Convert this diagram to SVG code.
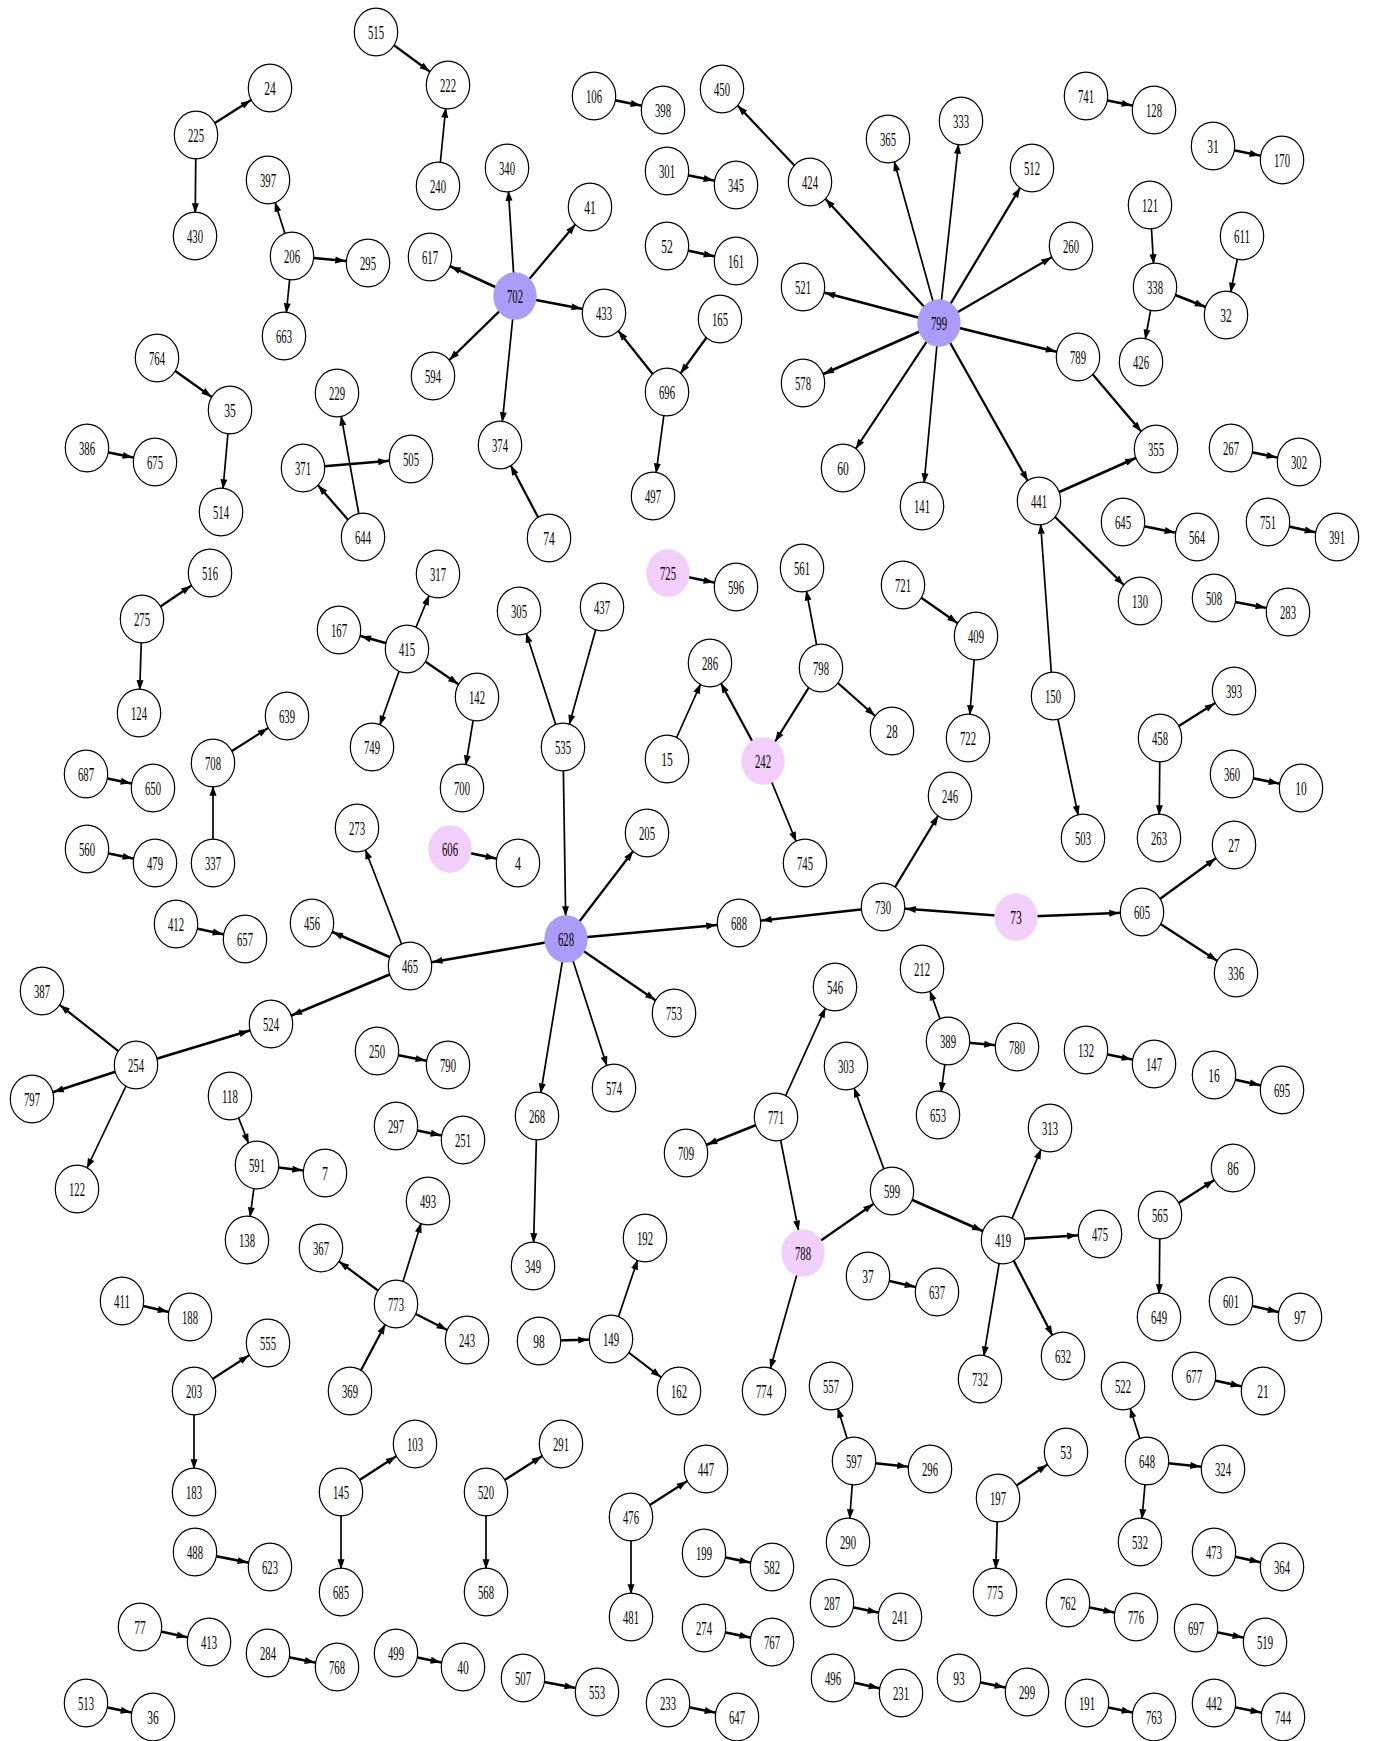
<svg xmlns="http://www.w3.org/2000/svg" width="1376" height="1741" viewBox="0 0 1376 1741">
<style>
.node ellipse{fill:#fff;stroke:#000;stroke-width:1.2}
.node.hub ellipse{fill:#aa9cf8;stroke:none}
.node.pk ellipse{fill:#f2cefa;stroke:none}
.node text{font-family:"Liberation Serif","Times New Roman",serif;font-size:18px;text-anchor:middle;fill:#000}
#edges line{stroke:#000;fill:none;marker-end:url(#ah)}
#edges .h{stroke-width:2.6}
#edges .d{stroke-width:2.2}
#edges .v{stroke-width:1.7}
</style>
<defs>
<marker id="ah" markerUnits="userSpaceOnUse" markerWidth="10" markerHeight="7" refX="32.8" refY="3.5" orient="auto" overflow="visible">
<path d="M0,0 L10,3.5 L0,7 z" fill="#000"/>
</marker>
</defs>
<rect width="1376" height="1741" fill="#fff"/>
<g id="edges">
<line class="d" x1="376" y1="32" x2="448" y2="85"/>
<line class="v" x1="438" y1="186" x2="448" y2="85"/>
<line class="d" x1="196" y1="135" x2="270" y2="88"/>
<line class="v" x1="196" y1="135" x2="195" y2="236"/>
<line class="v" x1="292" y1="256" x2="268" y2="180"/>
<line class="h" x1="292" y1="256" x2="368" y2="263"/>
<line class="v" x1="292" y1="256" x2="284" y2="336"/>
<line class="h" x1="594" y1="96" x2="663" y2="110"/>
<line class="v" x1="515" y1="296" x2="507" y2="168"/>
<line class="d" x1="515" y1="296" x2="590" y2="207"/>
<line class="h" x1="515" y1="296" x2="430" y2="257"/>
<line class="d" x1="515" y1="296" x2="433" y2="376"/>
<line class="h" x1="515" y1="296" x2="604" y2="313"/>
<line class="v" x1="515" y1="296" x2="500" y2="445"/>
<line class="h" x1="667" y1="171" x2="736" y2="185"/>
<line class="h" x1="667" y1="246" x2="736" y2="261"/>
<line class="d" x1="720" y1="319" x2="667" y2="392"/>
<line class="d" x1="667" y1="392" x2="604" y2="313"/>
<line class="v" x1="667" y1="392" x2="653" y2="496"/>
<line class="d" x1="549" y1="538" x2="500" y2="445"/>
<line class="d" x1="810" y1="182" x2="722" y2="89"/>
<line class="d" x1="939" y1="323" x2="810" y2="182"/>
<line class="v" x1="939" y1="323" x2="888" y2="139"/>
<line class="v" x1="939" y1="323" x2="961" y2="121"/>
<line class="d" x1="939" y1="323" x2="1032" y2="168"/>
<line class="d" x1="939" y1="323" x2="1071" y2="246"/>
<line class="h" x1="939" y1="323" x2="803" y2="287"/>
<line class="h" x1="939" y1="323" x2="803" y2="383"/>
<line class="h" x1="939" y1="323" x2="1078" y2="357"/>
<line class="d" x1="939" y1="323" x2="843" y2="468"/>
<line class="v" x1="939" y1="323" x2="922" y2="506"/>
<line class="d" x1="939" y1="323" x2="1039" y2="501"/>
<line class="d" x1="1078" y1="357" x2="1156" y2="449"/>
<line class="h" x1="1039" y1="501" x2="1156" y2="449"/>
<line class="d" x1="1039" y1="501" x2="1140" y2="601"/>
<line class="v" x1="1053" y1="696" x2="1039" y2="501"/>
<line class="v" x1="1053" y1="696" x2="1083" y2="838"/>
<line class="h" x1="1086" y1="96" x2="1154" y2="110"/>
<line class="h" x1="1213" y1="146" x2="1282" y2="160"/>
<line class="v" x1="1150" y1="205" x2="1155" y2="287"/>
<line class="h" x1="1155" y1="287" x2="1226" y2="315"/>
<line class="v" x1="1242" y1="236" x2="1226" y2="315"/>
<line class="v" x1="1155" y1="287" x2="1141" y2="362"/>
<line class="h" x1="1231" y1="448" x2="1299" y2="462"/>
<line class="h" x1="1123" y1="522" x2="1197" y2="537"/>
<line class="h" x1="1268" y1="522" x2="1337" y2="537"/>
<line class="h" x1="1214" y1="598" x2="1288" y2="612"/>
<line class="d" x1="157" y1="358" x2="230" y2="410"/>
<line class="v" x1="230" y1="410" x2="221" y2="512"/>
<line class="h" x1="87" y1="448" x2="155" y2="462"/>
<line class="v" x1="363" y1="537" x2="337" y2="393"/>
<line class="d" x1="363" y1="537" x2="303" y2="468"/>
<line class="h" x1="303" y1="468" x2="411" y2="459"/>
<line class="d" x1="142" y1="619" x2="210" y2="573"/>
<line class="v" x1="142" y1="619" x2="139" y2="713"/>
<line class="v" x1="407" y1="649" x2="438" y2="574"/>
<line class="h" x1="407" y1="649" x2="339" y2="630"/>
<line class="d" x1="407" y1="649" x2="477" y2="697"/>
<line class="v" x1="407" y1="649" x2="372" y2="747"/>
<line class="v" x1="477" y1="697" x2="462" y2="788"/>
<line class="v" x1="563" y1="747" x2="519" y2="611"/>
<line class="v" x1="602" y1="607" x2="563" y2="747"/>
<line class="v" x1="563" y1="747" x2="566" y2="939"/>
<line class="h" x1="668" y1="573" x2="736" y2="587"/>
<line class="v" x1="821" y1="668" x2="802" y2="568"/>
<line class="d" x1="821" y1="668" x2="763" y2="761"/>
<line class="d" x1="821" y1="668" x2="892" y2="731"/>
<line class="d" x1="903" y1="585" x2="976" y2="636"/>
<line class="v" x1="976" y1="636" x2="968" y2="738"/>
<line class="v" x1="667" y1="759" x2="710" y2="663"/>
<line class="d" x1="763" y1="761" x2="710" y2="663"/>
<line class="v" x1="763" y1="761" x2="805" y2="863"/>
<line class="d" x1="1160" y1="738" x2="1234" y2="691"/>
<line class="v" x1="1160" y1="738" x2="1159" y2="838"/>
<line class="h" x1="1232" y1="774" x2="1301" y2="788"/>
<line class="h" x1="86" y1="774" x2="153" y2="788"/>
<line class="d" x1="213" y1="763" x2="287" y2="716"/>
<line class="v" x1="213" y1="863" x2="213" y2="763"/>
<line class="h" x1="87" y1="849" x2="155" y2="863"/>
<line class="v" x1="410" y1="966" x2="357" y2="828"/>
<line class="h" x1="450" y1="849" x2="518" y2="863"/>
<line class="d" x1="566" y1="939" x2="647" y2="833"/>
<line class="d" x1="883" y1="907" x2="950" y2="796"/>
<line class="h" x1="883" y1="907" x2="739" y2="923"/>
<line class="h" x1="1016" y1="917" x2="883" y2="907"/>
<line class="h" x1="1016" y1="917" x2="1142" y2="912"/>
<line class="d" x1="1142" y1="912" x2="1234" y2="845"/>
<line class="d" x1="1142" y1="912" x2="1236" y2="973"/>
<line class="h" x1="176" y1="924" x2="245" y2="939"/>
<line class="h" x1="410" y1="966" x2="312" y2="923"/>
<line class="h" x1="566" y1="939" x2="410" y2="966"/>
<line class="h" x1="566" y1="939" x2="739" y2="923"/>
<line class="d" x1="566" y1="939" x2="674" y2="1013"/>
<line class="v" x1="566" y1="939" x2="537" y2="1116"/>
<line class="v" x1="566" y1="939" x2="614" y2="1088"/>
<line class="h" x1="410" y1="966" x2="271" y2="1024"/>
<line class="d" x1="136" y1="1065" x2="42" y2="991"/>
<line class="h" x1="136" y1="1065" x2="271" y2="1024"/>
<line class="h" x1="136" y1="1065" x2="32" y2="1099"/>
<line class="v" x1="136" y1="1065" x2="77" y2="1189"/>
<line class="h" x1="377" y1="1051" x2="448" y2="1065"/>
<line class="v" x1="537" y1="1116" x2="533" y2="1266"/>
<line class="v" x1="776" y1="1117" x2="835" y2="987"/>
<line class="v" x1="948" y1="1041" x2="922" y2="969"/>
<line class="h" x1="948" y1="1041" x2="1017" y2="1047"/>
<line class="v" x1="948" y1="1041" x2="938" y2="1115"/>
<line class="h" x1="1086" y1="1050" x2="1154" y2="1064"/>
<line class="h" x1="1214" y1="1075" x2="1282" y2="1090"/>
<line class="v" x1="892" y1="1191" x2="846" y2="1066"/>
<line class="h" x1="776" y1="1117" x2="686" y2="1153"/>
<line class="v" x1="776" y1="1117" x2="803" y2="1253"/>
<line class="d" x1="803" y1="1253" x2="892" y2="1191"/>
<line class="h" x1="892" y1="1191" x2="1003" y2="1240"/>
<line class="v" x1="1003" y1="1240" x2="1050" y2="1128"/>
<line class="h" x1="1003" y1="1240" x2="1100" y2="1234"/>
<line class="v" x1="1003" y1="1240" x2="980" y2="1379"/>
<line class="d" x1="1003" y1="1240" x2="1063" y2="1356"/>
<line class="d" x1="1160" y1="1215" x2="1233" y2="1168"/>
<line class="v" x1="1160" y1="1215" x2="1159" y2="1317"/>
<line class="h" x1="1231" y1="1301" x2="1300" y2="1317"/>
<line class="v" x1="230" y1="1096" x2="257" y2="1165"/>
<line class="h" x1="257" y1="1165" x2="325" y2="1173"/>
<line class="v" x1="257" y1="1165" x2="247" y2="1240"/>
<line class="h" x1="396" y1="1126" x2="463" y2="1140"/>
<line class="v" x1="396" y1="1304" x2="428" y2="1201"/>
<line class="d" x1="396" y1="1304" x2="321" y2="1248"/>
<line class="d" x1="396" y1="1304" x2="467" y2="1340"/>
<line class="d" x1="350" y1="1391" x2="396" y2="1304"/>
<line class="h" x1="122" y1="1301" x2="190" y2="1317"/>
<line class="d" x1="194" y1="1391" x2="268" y2="1343"/>
<line class="v" x1="194" y1="1391" x2="194" y2="1492"/>
<line class="v" x1="611" y1="1339" x2="645" y2="1238"/>
<line class="h" x1="539" y1="1341" x2="611" y2="1339"/>
<line class="d" x1="611" y1="1339" x2="679" y2="1391"/>
<line class="v" x1="803" y1="1253" x2="764" y2="1391"/>
<line class="h" x1="868" y1="1276" x2="937" y2="1292"/>
<line class="v" x1="1147" y1="1461" x2="1123" y2="1386"/>
<line class="h" x1="1147" y1="1461" x2="1223" y2="1469"/>
<line class="v" x1="1147" y1="1461" x2="1140" y2="1542"/>
<line class="h" x1="1194" y1="1376" x2="1263" y2="1391"/>
<line class="v" x1="854" y1="1461" x2="831" y2="1386"/>
<line class="h" x1="854" y1="1461" x2="930" y2="1469"/>
<line class="v" x1="854" y1="1461" x2="848" y2="1542"/>
<line class="d" x1="998" y1="1498" x2="1066" y2="1452"/>
<line class="v" x1="998" y1="1498" x2="995" y2="1592"/>
<line class="d" x1="341" y1="1492" x2="415" y2="1444"/>
<line class="v" x1="341" y1="1492" x2="341" y2="1592"/>
<line class="d" x1="486" y1="1492" x2="561" y2="1444"/>
<line class="v" x1="486" y1="1492" x2="486" y2="1592"/>
<line class="d" x1="631" y1="1517" x2="706" y2="1469"/>
<line class="v" x1="631" y1="1517" x2="631" y2="1617"/>
<line class="h" x1="704" y1="1553" x2="772" y2="1567"/>
<line class="h" x1="832" y1="1603" x2="900" y2="1617"/>
<line class="h" x1="195" y1="1552" x2="270" y2="1567"/>
<line class="h" x1="1214" y1="1552" x2="1282" y2="1567"/>
<line class="h" x1="1068" y1="1603" x2="1136" y2="1617"/>
<line class="h" x1="1196" y1="1628" x2="1265" y2="1642"/>
<line class="h" x1="140" y1="1627" x2="209" y2="1642"/>
<line class="h" x1="268" y1="1653" x2="337" y2="1667"/>
<line class="h" x1="396" y1="1653" x2="463" y2="1667"/>
<line class="h" x1="704" y1="1628" x2="772" y2="1642"/>
<line class="h" x1="833" y1="1678" x2="901" y2="1693"/>
<line class="h" x1="959" y1="1678" x2="1027" y2="1692"/>
<line class="h" x1="1087" y1="1703" x2="1154" y2="1717"/>
<line class="h" x1="1214" y1="1703" x2="1283" y2="1717"/>
<line class="h" x1="86" y1="1703" x2="153" y2="1717"/>
<line class="h" x1="523" y1="1678" x2="597" y2="1692"/>
<line class="h" x1="668" y1="1703" x2="737" y2="1717"/>
</g>
<g id="nodes">
<g id="n515" class="node"><ellipse cx="376" cy="32" rx="21.7" ry="23.8"/><text x="376" y="38.5" textLength="16" lengthAdjust="spacingAndGlyphs">515</text></g>
<g id="n222" class="node"><ellipse cx="448" cy="85" rx="21.7" ry="23.8"/><text x="448" y="91.5" textLength="16" lengthAdjust="spacingAndGlyphs">222</text></g>
<g id="n24" class="node"><ellipse cx="270" cy="88" rx="21.7" ry="23.8"/><text x="270" y="94.5" textLength="11.5" lengthAdjust="spacingAndGlyphs">24</text></g>
<g id="n225" class="node"><ellipse cx="196" cy="135" rx="21.7" ry="23.8"/><text x="196" y="141.5" textLength="16" lengthAdjust="spacingAndGlyphs">225</text></g>
<g id="n430" class="node"><ellipse cx="195" cy="236" rx="21.7" ry="23.8"/><text x="195" y="242.5" textLength="16" lengthAdjust="spacingAndGlyphs">430</text></g>
<g id="n240" class="node"><ellipse cx="438" cy="186" rx="21.7" ry="23.8"/><text x="438" y="192.5" textLength="16" lengthAdjust="spacingAndGlyphs">240</text></g>
<g id="n397" class="node"><ellipse cx="268" cy="180" rx="21.7" ry="23.8"/><text x="268" y="186.5" textLength="16" lengthAdjust="spacingAndGlyphs">397</text></g>
<g id="n206" class="node"><ellipse cx="292" cy="256" rx="21.7" ry="23.8"/><text x="292" y="262.5" textLength="16" lengthAdjust="spacingAndGlyphs">206</text></g>
<g id="n295" class="node"><ellipse cx="368" cy="263" rx="21.7" ry="23.8"/><text x="368" y="269.5" textLength="16" lengthAdjust="spacingAndGlyphs">295</text></g>
<g id="n663" class="node"><ellipse cx="284" cy="336" rx="21.7" ry="23.8"/><text x="284" y="342.5" textLength="16" lengthAdjust="spacingAndGlyphs">663</text></g>
<g id="n617" class="node"><ellipse cx="430" cy="257" rx="21.7" ry="23.8"/><text x="430" y="263.5" textLength="16" lengthAdjust="spacingAndGlyphs">617</text></g>
<g id="n594" class="node"><ellipse cx="433" cy="376" rx="21.7" ry="23.8"/><text x="433" y="382.5" textLength="16" lengthAdjust="spacingAndGlyphs">594</text></g>
<g id="n764" class="node"><ellipse cx="157" cy="358" rx="21.7" ry="23.8"/><text x="157" y="364.5" textLength="16" lengthAdjust="spacingAndGlyphs">764</text></g>
<g id="n35" class="node"><ellipse cx="230" cy="410" rx="21.7" ry="23.8"/><text x="230" y="416.5" textLength="11.5" lengthAdjust="spacingAndGlyphs">35</text></g>
<g id="n229" class="node"><ellipse cx="337" cy="393" rx="21.7" ry="23.8"/><text x="337" y="399.5" textLength="16" lengthAdjust="spacingAndGlyphs">229</text></g>
<g id="n106" class="node"><ellipse cx="594" cy="96" rx="21.7" ry="23.8"/><text x="594" y="102.5" textLength="16" lengthAdjust="spacingAndGlyphs">106</text></g>
<g id="n398" class="node"><ellipse cx="663" cy="110" rx="21.7" ry="23.8"/><text x="663" y="116.5" textLength="16" lengthAdjust="spacingAndGlyphs">398</text></g>
<g id="n450" class="node"><ellipse cx="722" cy="89" rx="21.7" ry="23.8"/><text x="722" y="95.5" textLength="16" lengthAdjust="spacingAndGlyphs">450</text></g>
<g id="n365" class="node"><ellipse cx="888" cy="139" rx="21.7" ry="23.8"/><text x="888" y="145.5" textLength="16" lengthAdjust="spacingAndGlyphs">365</text></g>
<g id="n340" class="node"><ellipse cx="507" cy="168" rx="21.7" ry="23.8"/><text x="507" y="174.5" textLength="16" lengthAdjust="spacingAndGlyphs">340</text></g>
<g id="n41" class="node"><ellipse cx="590" cy="207" rx="21.7" ry="23.8"/><text x="590" y="213.5" textLength="11.5" lengthAdjust="spacingAndGlyphs">41</text></g>
<g id="n301" class="node"><ellipse cx="667" cy="171" rx="21.7" ry="23.8"/><text x="667" y="177.5" textLength="16" lengthAdjust="spacingAndGlyphs">301</text></g>
<g id="n345" class="node"><ellipse cx="736" cy="185" rx="21.7" ry="23.8"/><text x="736" y="191.5" textLength="16" lengthAdjust="spacingAndGlyphs">345</text></g>
<g id="n424" class="node"><ellipse cx="810" cy="182" rx="21.7" ry="23.8"/><text x="810" y="188.5" textLength="16" lengthAdjust="spacingAndGlyphs">424</text></g>
<g id="n52" class="node"><ellipse cx="667" cy="246" rx="21.7" ry="23.8"/><text x="667" y="252.5" textLength="11.5" lengthAdjust="spacingAndGlyphs">52</text></g>
<g id="n161" class="node"><ellipse cx="736" cy="261" rx="21.7" ry="23.8"/><text x="736" y="267.5" textLength="16" lengthAdjust="spacingAndGlyphs">161</text></g>
<g id="n521" class="node"><ellipse cx="803" cy="287" rx="21.7" ry="23.8"/><text x="803" y="293.5" textLength="16" lengthAdjust="spacingAndGlyphs">521</text></g>
<g id="n702" class="node hub"><ellipse cx="515" cy="296" rx="21.7" ry="23.8"/><text x="515" y="302.5" textLength="16" lengthAdjust="spacingAndGlyphs">702</text></g>
<g id="n433" class="node"><ellipse cx="604" cy="313" rx="21.7" ry="23.8"/><text x="604" y="319.5" textLength="16" lengthAdjust="spacingAndGlyphs">433</text></g>
<g id="n165" class="node"><ellipse cx="720" cy="319" rx="21.7" ry="23.8"/><text x="720" y="325.5" textLength="16" lengthAdjust="spacingAndGlyphs">165</text></g>
<g id="n696" class="node"><ellipse cx="667" cy="392" rx="21.7" ry="23.8"/><text x="667" y="398.5" textLength="16" lengthAdjust="spacingAndGlyphs">696</text></g>
<g id="n578" class="node"><ellipse cx="803" cy="383" rx="21.7" ry="23.8"/><text x="803" y="389.5" textLength="16" lengthAdjust="spacingAndGlyphs">578</text></g>
<g id="n374" class="node"><ellipse cx="500" cy="445" rx="21.7" ry="23.8"/><text x="500" y="451.5" textLength="16" lengthAdjust="spacingAndGlyphs">374</text></g>
<g id="n333" class="node"><ellipse cx="961" cy="121" rx="21.7" ry="23.8"/><text x="961" y="127.5" textLength="16" lengthAdjust="spacingAndGlyphs">333</text></g>
<g id="n512" class="node"><ellipse cx="1032" cy="168" rx="21.7" ry="23.8"/><text x="1032" y="174.5" textLength="16" lengthAdjust="spacingAndGlyphs">512</text></g>
<g id="n741" class="node"><ellipse cx="1086" cy="96" rx="21.7" ry="23.8"/><text x="1086" y="102.5" textLength="16" lengthAdjust="spacingAndGlyphs">741</text></g>
<g id="n128" class="node"><ellipse cx="1154" cy="110" rx="21.7" ry="23.8"/><text x="1154" y="116.5" textLength="16" lengthAdjust="spacingAndGlyphs">128</text></g>
<g id="n31" class="node"><ellipse cx="1213" cy="146" rx="21.7" ry="23.8"/><text x="1213" y="152.5" textLength="11.5" lengthAdjust="spacingAndGlyphs">31</text></g>
<g id="n170" class="node"><ellipse cx="1282" cy="160" rx="21.7" ry="23.8"/><text x="1282" y="166.5" textLength="16" lengthAdjust="spacingAndGlyphs">170</text></g>
<g id="n121" class="node"><ellipse cx="1150" cy="205" rx="21.7" ry="23.8"/><text x="1150" y="211.5" textLength="16" lengthAdjust="spacingAndGlyphs">121</text></g>
<g id="n611" class="node"><ellipse cx="1242" cy="236" rx="21.7" ry="23.8"/><text x="1242" y="242.5" textLength="16" lengthAdjust="spacingAndGlyphs">611</text></g>
<g id="n260" class="node"><ellipse cx="1071" cy="246" rx="21.7" ry="23.8"/><text x="1071" y="252.5" textLength="16" lengthAdjust="spacingAndGlyphs">260</text></g>
<g id="n338" class="node"><ellipse cx="1155" cy="287" rx="21.7" ry="23.8"/><text x="1155" y="293.5" textLength="16" lengthAdjust="spacingAndGlyphs">338</text></g>
<g id="n32" class="node"><ellipse cx="1226" cy="315" rx="21.7" ry="23.8"/><text x="1226" y="321.5" textLength="11.5" lengthAdjust="spacingAndGlyphs">32</text></g>
<g id="n799" class="node hub"><ellipse cx="939" cy="323" rx="21.7" ry="23.8"/><text x="939" y="329.5" textLength="16" lengthAdjust="spacingAndGlyphs">799</text></g>
<g id="n789" class="node"><ellipse cx="1078" cy="357" rx="21.7" ry="23.8"/><text x="1078" y="363.5" textLength="16" lengthAdjust="spacingAndGlyphs">789</text></g>
<g id="n426" class="node"><ellipse cx="1141" cy="362" rx="21.7" ry="23.8"/><text x="1141" y="368.5" textLength="16" lengthAdjust="spacingAndGlyphs">426</text></g>
<g id="n386" class="node"><ellipse cx="87" cy="448" rx="21.7" ry="23.8"/><text x="87" y="454.5" textLength="16" lengthAdjust="spacingAndGlyphs">386</text></g>
<g id="n675" class="node"><ellipse cx="155" cy="462" rx="21.7" ry="23.8"/><text x="155" y="468.5" textLength="16" lengthAdjust="spacingAndGlyphs">675</text></g>
<g id="n514" class="node"><ellipse cx="221" cy="512" rx="21.7" ry="23.8"/><text x="221" y="518.5" textLength="16" lengthAdjust="spacingAndGlyphs">514</text></g>
<g id="n371" class="node"><ellipse cx="303" cy="468" rx="21.7" ry="23.8"/><text x="303" y="474.5" textLength="16" lengthAdjust="spacingAndGlyphs">371</text></g>
<g id="n505" class="node"><ellipse cx="411" cy="459" rx="21.7" ry="23.8"/><text x="411" y="465.5" textLength="16" lengthAdjust="spacingAndGlyphs">505</text></g>
<g id="n644" class="node"><ellipse cx="363" cy="537" rx="21.7" ry="23.8"/><text x="363" y="543.5" textLength="16" lengthAdjust="spacingAndGlyphs">644</text></g>
<g id="n516" class="node"><ellipse cx="210" cy="573" rx="21.7" ry="23.8"/><text x="210" y="579.5" textLength="16" lengthAdjust="spacingAndGlyphs">516</text></g>
<g id="n275" class="node"><ellipse cx="142" cy="619" rx="21.7" ry="23.8"/><text x="142" y="625.5" textLength="16" lengthAdjust="spacingAndGlyphs">275</text></g>
<g id="n317" class="node"><ellipse cx="438" cy="574" rx="21.7" ry="23.8"/><text x="438" y="580.5" textLength="16" lengthAdjust="spacingAndGlyphs">317</text></g>
<g id="n167" class="node"><ellipse cx="339" cy="630" rx="21.7" ry="23.8"/><text x="339" y="636.5" textLength="16" lengthAdjust="spacingAndGlyphs">167</text></g>
<g id="n415" class="node"><ellipse cx="407" cy="649" rx="21.7" ry="23.8"/><text x="407" y="655.5" textLength="16" lengthAdjust="spacingAndGlyphs">415</text></g>
<g id="n124" class="node"><ellipse cx="139" cy="713" rx="21.7" ry="23.8"/><text x="139" y="719.5" textLength="16" lengthAdjust="spacingAndGlyphs">124</text></g>
<g id="n639" class="node"><ellipse cx="287" cy="716" rx="21.7" ry="23.8"/><text x="287" y="722.5" textLength="16" lengthAdjust="spacingAndGlyphs">639</text></g>
<g id="n749" class="node"><ellipse cx="372" cy="747" rx="21.7" ry="23.8"/><text x="372" y="753.5" textLength="16" lengthAdjust="spacingAndGlyphs">749</text></g>
<g id="n687" class="node"><ellipse cx="86" cy="774" rx="21.7" ry="23.8"/><text x="86" y="780.5" textLength="16" lengthAdjust="spacingAndGlyphs">687</text></g>
<g id="n708" class="node"><ellipse cx="213" cy="763" rx="21.7" ry="23.8"/><text x="213" y="769.5" textLength="16" lengthAdjust="spacingAndGlyphs">708</text></g>
<g id="n650" class="node"><ellipse cx="153" cy="788" rx="21.7" ry="23.8"/><text x="153" y="794.5" textLength="16" lengthAdjust="spacingAndGlyphs">650</text></g>
<g id="n273" class="node"><ellipse cx="357" cy="828" rx="21.7" ry="23.8"/><text x="357" y="834.5" textLength="16" lengthAdjust="spacingAndGlyphs">273</text></g>
<g id="n606" class="node pk"><ellipse cx="450" cy="849" rx="21.7" ry="23.8"/><text x="450" y="855.5" textLength="16" lengthAdjust="spacingAndGlyphs">606</text></g>
<g id="n560" class="node"><ellipse cx="87" cy="849" rx="21.7" ry="23.8"/><text x="87" y="855.5" textLength="16" lengthAdjust="spacingAndGlyphs">560</text></g>
<g id="n479" class="node"><ellipse cx="155" cy="863" rx="21.7" ry="23.8"/><text x="155" y="869.5" textLength="16" lengthAdjust="spacingAndGlyphs">479</text></g>
<g id="n337" class="node"><ellipse cx="213" cy="863" rx="21.7" ry="23.8"/><text x="213" y="869.5" textLength="16" lengthAdjust="spacingAndGlyphs">337</text></g>
<g id="n497" class="node"><ellipse cx="653" cy="496" rx="21.7" ry="23.8"/><text x="653" y="502.5" textLength="16" lengthAdjust="spacingAndGlyphs">497</text></g>
<g id="n60" class="node"><ellipse cx="843" cy="468" rx="21.7" ry="23.8"/><text x="843" y="474.5" textLength="11.5" lengthAdjust="spacingAndGlyphs">60</text></g>
<g id="n74" class="node"><ellipse cx="549" cy="538" rx="21.7" ry="23.8"/><text x="549" y="544.5" textLength="11.5" lengthAdjust="spacingAndGlyphs">74</text></g>
<g id="n725" class="node pk"><ellipse cx="668" cy="573" rx="21.7" ry="23.8"/><text x="668" y="579.5" textLength="16" lengthAdjust="spacingAndGlyphs">725</text></g>
<g id="n596" class="node"><ellipse cx="736" cy="587" rx="21.7" ry="23.8"/><text x="736" y="593.5" textLength="16" lengthAdjust="spacingAndGlyphs">596</text></g>
<g id="n561" class="node"><ellipse cx="802" cy="568" rx="21.7" ry="23.8"/><text x="802" y="574.5" textLength="16" lengthAdjust="spacingAndGlyphs">561</text></g>
<g id="n721" class="node"><ellipse cx="903" cy="585" rx="21.7" ry="23.8"/><text x="903" y="591.5" textLength="16" lengthAdjust="spacingAndGlyphs">721</text></g>
<g id="n305" class="node"><ellipse cx="519" cy="611" rx="21.7" ry="23.8"/><text x="519" y="617.5" textLength="16" lengthAdjust="spacingAndGlyphs">305</text></g>
<g id="n437" class="node"><ellipse cx="602" cy="607" rx="21.7" ry="23.8"/><text x="602" y="613.5" textLength="16" lengthAdjust="spacingAndGlyphs">437</text></g>
<g id="n286" class="node"><ellipse cx="710" cy="663" rx="21.7" ry="23.8"/><text x="710" y="669.5" textLength="16" lengthAdjust="spacingAndGlyphs">286</text></g>
<g id="n798" class="node"><ellipse cx="821" cy="668" rx="21.7" ry="23.8"/><text x="821" y="674.5" textLength="16" lengthAdjust="spacingAndGlyphs">798</text></g>
<g id="n142" class="node"><ellipse cx="477" cy="697" rx="21.7" ry="23.8"/><text x="477" y="703.5" textLength="16" lengthAdjust="spacingAndGlyphs">142</text></g>
<g id="n535" class="node"><ellipse cx="563" cy="747" rx="21.7" ry="23.8"/><text x="563" y="753.5" textLength="16" lengthAdjust="spacingAndGlyphs">535</text></g>
<g id="n15" class="node"><ellipse cx="667" cy="759" rx="21.7" ry="23.8"/><text x="667" y="765.5" textLength="11.5" lengthAdjust="spacingAndGlyphs">15</text></g>
<g id="n242" class="node pk"><ellipse cx="763" cy="761" rx="21.7" ry="23.8"/><text x="763" y="767.5" textLength="16" lengthAdjust="spacingAndGlyphs">242</text></g>
<g id="n28" class="node"><ellipse cx="892" cy="731" rx="21.7" ry="23.8"/><text x="892" y="737.5" textLength="11.5" lengthAdjust="spacingAndGlyphs">28</text></g>
<g id="n700" class="node"><ellipse cx="462" cy="788" rx="21.7" ry="23.8"/><text x="462" y="794.5" textLength="16" lengthAdjust="spacingAndGlyphs">700</text></g>
<g id="n205" class="node"><ellipse cx="647" cy="833" rx="21.7" ry="23.8"/><text x="647" y="839.5" textLength="16" lengthAdjust="spacingAndGlyphs">205</text></g>
<g id="n4" class="node"><ellipse cx="518" cy="863" rx="21.7" ry="23.8"/><text x="518" y="869.5" textLength="6" lengthAdjust="spacingAndGlyphs">4</text></g>
<g id="n745" class="node"><ellipse cx="805" cy="863" rx="21.7" ry="23.8"/><text x="805" y="869.5" textLength="16" lengthAdjust="spacingAndGlyphs">745</text></g>
<g id="n355" class="node"><ellipse cx="1156" cy="449" rx="21.7" ry="23.8"/><text x="1156" y="455.5" textLength="16" lengthAdjust="spacingAndGlyphs">355</text></g>
<g id="n267" class="node"><ellipse cx="1231" cy="448" rx="21.7" ry="23.8"/><text x="1231" y="454.5" textLength="16" lengthAdjust="spacingAndGlyphs">267</text></g>
<g id="n302" class="node"><ellipse cx="1299" cy="462" rx="21.7" ry="23.8"/><text x="1299" y="468.5" textLength="16" lengthAdjust="spacingAndGlyphs">302</text></g>
<g id="n141" class="node"><ellipse cx="922" cy="506" rx="21.7" ry="23.8"/><text x="922" y="512.5" textLength="16" lengthAdjust="spacingAndGlyphs">141</text></g>
<g id="n441" class="node"><ellipse cx="1039" cy="501" rx="21.7" ry="23.8"/><text x="1039" y="507.5" textLength="16" lengthAdjust="spacingAndGlyphs">441</text></g>
<g id="n645" class="node"><ellipse cx="1123" cy="522" rx="21.7" ry="23.8"/><text x="1123" y="528.5" textLength="16" lengthAdjust="spacingAndGlyphs">645</text></g>
<g id="n564" class="node"><ellipse cx="1197" cy="537" rx="21.7" ry="23.8"/><text x="1197" y="543.5" textLength="16" lengthAdjust="spacingAndGlyphs">564</text></g>
<g id="n751" class="node"><ellipse cx="1268" cy="522" rx="21.7" ry="23.8"/><text x="1268" y="528.5" textLength="16" lengthAdjust="spacingAndGlyphs">751</text></g>
<g id="n391" class="node"><ellipse cx="1337" cy="537" rx="21.7" ry="23.8"/><text x="1337" y="543.5" textLength="16" lengthAdjust="spacingAndGlyphs">391</text></g>
<g id="n130" class="node"><ellipse cx="1140" cy="601" rx="21.7" ry="23.8"/><text x="1140" y="607.5" textLength="16" lengthAdjust="spacingAndGlyphs">130</text></g>
<g id="n508" class="node"><ellipse cx="1214" cy="598" rx="21.7" ry="23.8"/><text x="1214" y="604.5" textLength="16" lengthAdjust="spacingAndGlyphs">508</text></g>
<g id="n283" class="node"><ellipse cx="1288" cy="612" rx="21.7" ry="23.8"/><text x="1288" y="618.5" textLength="16" lengthAdjust="spacingAndGlyphs">283</text></g>
<g id="n409" class="node"><ellipse cx="976" cy="636" rx="21.7" ry="23.8"/><text x="976" y="642.5" textLength="16" lengthAdjust="spacingAndGlyphs">409</text></g>
<g id="n150" class="node"><ellipse cx="1053" cy="696" rx="21.7" ry="23.8"/><text x="1053" y="702.5" textLength="16" lengthAdjust="spacingAndGlyphs">150</text></g>
<g id="n393" class="node"><ellipse cx="1234" cy="691" rx="21.7" ry="23.8"/><text x="1234" y="697.5" textLength="16" lengthAdjust="spacingAndGlyphs">393</text></g>
<g id="n458" class="node"><ellipse cx="1160" cy="738" rx="21.7" ry="23.8"/><text x="1160" y="744.5" textLength="16" lengthAdjust="spacingAndGlyphs">458</text></g>
<g id="n722" class="node"><ellipse cx="968" cy="738" rx="21.7" ry="23.8"/><text x="968" y="744.5" textLength="16" lengthAdjust="spacingAndGlyphs">722</text></g>
<g id="n360" class="node"><ellipse cx="1232" cy="774" rx="21.7" ry="23.8"/><text x="1232" y="780.5" textLength="16" lengthAdjust="spacingAndGlyphs">360</text></g>
<g id="n10" class="node"><ellipse cx="1301" cy="788" rx="21.7" ry="23.8"/><text x="1301" y="794.5" textLength="11.5" lengthAdjust="spacingAndGlyphs">10</text></g>
<g id="n246" class="node"><ellipse cx="950" cy="796" rx="21.7" ry="23.8"/><text x="950" y="802.5" textLength="16" lengthAdjust="spacingAndGlyphs">246</text></g>
<g id="n503" class="node"><ellipse cx="1083" cy="838" rx="21.7" ry="23.8"/><text x="1083" y="844.5" textLength="16" lengthAdjust="spacingAndGlyphs">503</text></g>
<g id="n263" class="node"><ellipse cx="1159" cy="838" rx="21.7" ry="23.8"/><text x="1159" y="844.5" textLength="16" lengthAdjust="spacingAndGlyphs">263</text></g>
<g id="n27" class="node"><ellipse cx="1234" cy="845" rx="21.7" ry="23.8"/><text x="1234" y="851.5" textLength="11.5" lengthAdjust="spacingAndGlyphs">27</text></g>
<g id="n412" class="node"><ellipse cx="176" cy="924" rx="21.7" ry="23.8"/><text x="176" y="930.5" textLength="16" lengthAdjust="spacingAndGlyphs">412</text></g>
<g id="n657" class="node"><ellipse cx="245" cy="939" rx="21.7" ry="23.8"/><text x="245" y="945.5" textLength="16" lengthAdjust="spacingAndGlyphs">657</text></g>
<g id="n456" class="node"><ellipse cx="312" cy="923" rx="21.7" ry="23.8"/><text x="312" y="929.5" textLength="16" lengthAdjust="spacingAndGlyphs">456</text></g>
<g id="n465" class="node"><ellipse cx="410" cy="966" rx="21.7" ry="23.8"/><text x="410" y="972.5" textLength="16" lengthAdjust="spacingAndGlyphs">465</text></g>
<g id="n387" class="node"><ellipse cx="42" cy="991" rx="21.7" ry="23.8"/><text x="42" y="997.5" textLength="16" lengthAdjust="spacingAndGlyphs">387</text></g>
<g id="n524" class="node"><ellipse cx="271" cy="1024" rx="21.7" ry="23.8"/><text x="271" y="1030.5" textLength="16" lengthAdjust="spacingAndGlyphs">524</text></g>
<g id="n250" class="node"><ellipse cx="377" cy="1051" rx="21.7" ry="23.8"/><text x="377" y="1057.5" textLength="16" lengthAdjust="spacingAndGlyphs">250</text></g>
<g id="n790" class="node"><ellipse cx="448" cy="1065" rx="21.7" ry="23.8"/><text x="448" y="1071.5" textLength="16" lengthAdjust="spacingAndGlyphs">790</text></g>
<g id="n254" class="node"><ellipse cx="136" cy="1065" rx="21.7" ry="23.8"/><text x="136" y="1071.5" textLength="16" lengthAdjust="spacingAndGlyphs">254</text></g>
<g id="n797" class="node"><ellipse cx="32" cy="1099" rx="21.7" ry="23.8"/><text x="32" y="1105.5" textLength="16" lengthAdjust="spacingAndGlyphs">797</text></g>
<g id="n118" class="node"><ellipse cx="230" cy="1096" rx="21.7" ry="23.8"/><text x="230" y="1102.5" textLength="16" lengthAdjust="spacingAndGlyphs">118</text></g>
<g id="n297" class="node"><ellipse cx="396" cy="1126" rx="21.7" ry="23.8"/><text x="396" y="1132.5" textLength="16" lengthAdjust="spacingAndGlyphs">297</text></g>
<g id="n251" class="node"><ellipse cx="463" cy="1140" rx="21.7" ry="23.8"/><text x="463" y="1146.5" textLength="16" lengthAdjust="spacingAndGlyphs">251</text></g>
<g id="n591" class="node"><ellipse cx="257" cy="1165" rx="21.7" ry="23.8"/><text x="257" y="1171.5" textLength="16" lengthAdjust="spacingAndGlyphs">591</text></g>
<g id="n7" class="node"><ellipse cx="325" cy="1173" rx="21.7" ry="23.8"/><text x="325" y="1179.5" textLength="6" lengthAdjust="spacingAndGlyphs">7</text></g>
<g id="n122" class="node"><ellipse cx="77" cy="1189" rx="21.7" ry="23.8"/><text x="77" y="1195.5" textLength="16" lengthAdjust="spacingAndGlyphs">122</text></g>
<g id="n493" class="node"><ellipse cx="428" cy="1201" rx="21.7" ry="23.8"/><text x="428" y="1207.5" textLength="16" lengthAdjust="spacingAndGlyphs">493</text></g>
<g id="n138" class="node"><ellipse cx="247" cy="1240" rx="21.7" ry="23.8"/><text x="247" y="1246.5" textLength="16" lengthAdjust="spacingAndGlyphs">138</text></g>
<g id="n367" class="node"><ellipse cx="321" cy="1248" rx="21.7" ry="23.8"/><text x="321" y="1254.5" textLength="16" lengthAdjust="spacingAndGlyphs">367</text></g>
<g id="n411" class="node"><ellipse cx="122" cy="1301" rx="21.7" ry="23.8"/><text x="122" y="1307.5" textLength="16" lengthAdjust="spacingAndGlyphs">411</text></g>
<g id="n773" class="node"><ellipse cx="396" cy="1304" rx="21.7" ry="23.8"/><text x="396" y="1310.5" textLength="16" lengthAdjust="spacingAndGlyphs">773</text></g>
<g id="n628" class="node hub"><ellipse cx="566" cy="939" rx="21.7" ry="23.8"/><text x="566" y="945.5" textLength="16" lengthAdjust="spacingAndGlyphs">628</text></g>
<g id="n688" class="node"><ellipse cx="739" cy="923" rx="21.7" ry="23.8"/><text x="739" y="929.5" textLength="16" lengthAdjust="spacingAndGlyphs">688</text></g>
<g id="n730" class="node"><ellipse cx="883" cy="907" rx="21.7" ry="23.8"/><text x="883" y="913.5" textLength="16" lengthAdjust="spacingAndGlyphs">730</text></g>
<g id="n546" class="node"><ellipse cx="835" cy="987" rx="21.7" ry="23.8"/><text x="835" y="993.5" textLength="16" lengthAdjust="spacingAndGlyphs">546</text></g>
<g id="n753" class="node"><ellipse cx="674" cy="1013" rx="21.7" ry="23.8"/><text x="674" y="1019.5" textLength="16" lengthAdjust="spacingAndGlyphs">753</text></g>
<g id="n303" class="node"><ellipse cx="846" cy="1066" rx="21.7" ry="23.8"/><text x="846" y="1072.5" textLength="16" lengthAdjust="spacingAndGlyphs">303</text></g>
<g id="n574" class="node"><ellipse cx="614" cy="1088" rx="21.7" ry="23.8"/><text x="614" y="1094.5" textLength="16" lengthAdjust="spacingAndGlyphs">574</text></g>
<g id="n268" class="node"><ellipse cx="537" cy="1116" rx="21.7" ry="23.8"/><text x="537" y="1122.5" textLength="16" lengthAdjust="spacingAndGlyphs">268</text></g>
<g id="n771" class="node"><ellipse cx="776" cy="1117" rx="21.7" ry="23.8"/><text x="776" y="1123.5" textLength="16" lengthAdjust="spacingAndGlyphs">771</text></g>
<g id="n709" class="node"><ellipse cx="686" cy="1153" rx="21.7" ry="23.8"/><text x="686" y="1159.5" textLength="16" lengthAdjust="spacingAndGlyphs">709</text></g>
<g id="n599" class="node"><ellipse cx="892" cy="1191" rx="21.7" ry="23.8"/><text x="892" y="1197.5" textLength="16" lengthAdjust="spacingAndGlyphs">599</text></g>
<g id="n192" class="node"><ellipse cx="645" cy="1238" rx="21.7" ry="23.8"/><text x="645" y="1244.5" textLength="16" lengthAdjust="spacingAndGlyphs">192</text></g>
<g id="n349" class="node"><ellipse cx="533" cy="1266" rx="21.7" ry="23.8"/><text x="533" y="1272.5" textLength="16" lengthAdjust="spacingAndGlyphs">349</text></g>
<g id="n788" class="node pk"><ellipse cx="803" cy="1253" rx="21.7" ry="23.8"/><text x="803" y="1259.5" textLength="16" lengthAdjust="spacingAndGlyphs">788</text></g>
<g id="n37" class="node"><ellipse cx="868" cy="1276" rx="21.7" ry="23.8"/><text x="868" y="1282.5" textLength="11.5" lengthAdjust="spacingAndGlyphs">37</text></g>
<g id="n73" class="node pk"><ellipse cx="1016" cy="917" rx="21.7" ry="23.8"/><text x="1016" y="923.5" textLength="11.5" lengthAdjust="spacingAndGlyphs">73</text></g>
<g id="n605" class="node"><ellipse cx="1142" cy="912" rx="21.7" ry="23.8"/><text x="1142" y="918.5" textLength="16" lengthAdjust="spacingAndGlyphs">605</text></g>
<g id="n336" class="node"><ellipse cx="1236" cy="973" rx="21.7" ry="23.8"/><text x="1236" y="979.5" textLength="16" lengthAdjust="spacingAndGlyphs">336</text></g>
<g id="n212" class="node"><ellipse cx="922" cy="969" rx="21.7" ry="23.8"/><text x="922" y="975.5" textLength="16" lengthAdjust="spacingAndGlyphs">212</text></g>
<g id="n389" class="node"><ellipse cx="948" cy="1041" rx="21.7" ry="23.8"/><text x="948" y="1047.5" textLength="16" lengthAdjust="spacingAndGlyphs">389</text></g>
<g id="n780" class="node"><ellipse cx="1017" cy="1047" rx="21.7" ry="23.8"/><text x="1017" y="1053.5" textLength="16" lengthAdjust="spacingAndGlyphs">780</text></g>
<g id="n132" class="node"><ellipse cx="1086" cy="1050" rx="21.7" ry="23.8"/><text x="1086" y="1056.5" textLength="16" lengthAdjust="spacingAndGlyphs">132</text></g>
<g id="n147" class="node"><ellipse cx="1154" cy="1064" rx="21.7" ry="23.8"/><text x="1154" y="1070.5" textLength="16" lengthAdjust="spacingAndGlyphs">147</text></g>
<g id="n16" class="node"><ellipse cx="1214" cy="1075" rx="21.7" ry="23.8"/><text x="1214" y="1081.5" textLength="11.5" lengthAdjust="spacingAndGlyphs">16</text></g>
<g id="n695" class="node"><ellipse cx="1282" cy="1090" rx="21.7" ry="23.8"/><text x="1282" y="1096.5" textLength="16" lengthAdjust="spacingAndGlyphs">695</text></g>
<g id="n653" class="node"><ellipse cx="938" cy="1115" rx="21.7" ry="23.8"/><text x="938" y="1121.5" textLength="16" lengthAdjust="spacingAndGlyphs">653</text></g>
<g id="n313" class="node"><ellipse cx="1050" cy="1128" rx="21.7" ry="23.8"/><text x="1050" y="1134.5" textLength="16" lengthAdjust="spacingAndGlyphs">313</text></g>
<g id="n86" class="node"><ellipse cx="1233" cy="1168" rx="21.7" ry="23.8"/><text x="1233" y="1174.5" textLength="11.5" lengthAdjust="spacingAndGlyphs">86</text></g>
<g id="n565" class="node"><ellipse cx="1160" cy="1215" rx="21.7" ry="23.8"/><text x="1160" y="1221.5" textLength="16" lengthAdjust="spacingAndGlyphs">565</text></g>
<g id="n419" class="node"><ellipse cx="1003" cy="1240" rx="21.7" ry="23.8"/><text x="1003" y="1246.5" textLength="16" lengthAdjust="spacingAndGlyphs">419</text></g>
<g id="n475" class="node"><ellipse cx="1100" cy="1234" rx="21.7" ry="23.8"/><text x="1100" y="1240.5" textLength="16" lengthAdjust="spacingAndGlyphs">475</text></g>
<g id="n637" class="node"><ellipse cx="937" cy="1292" rx="21.7" ry="23.8"/><text x="937" y="1298.5" textLength="16" lengthAdjust="spacingAndGlyphs">637</text></g>
<g id="n601" class="node"><ellipse cx="1231" cy="1301" rx="21.7" ry="23.8"/><text x="1231" y="1307.5" textLength="16" lengthAdjust="spacingAndGlyphs">601</text></g>
<g id="n649" class="node"><ellipse cx="1159" cy="1317" rx="21.7" ry="23.8"/><text x="1159" y="1323.5" textLength="16" lengthAdjust="spacingAndGlyphs">649</text></g>
<g id="n97" class="node"><ellipse cx="1300" cy="1317" rx="21.7" ry="23.8"/><text x="1300" y="1323.5" textLength="11.5" lengthAdjust="spacingAndGlyphs">97</text></g>
<g id="n188" class="node"><ellipse cx="190" cy="1317" rx="21.7" ry="23.8"/><text x="190" y="1323.5" textLength="16" lengthAdjust="spacingAndGlyphs">188</text></g>
<g id="n555" class="node"><ellipse cx="268" cy="1343" rx="21.7" ry="23.8"/><text x="268" y="1349.5" textLength="16" lengthAdjust="spacingAndGlyphs">555</text></g>
<g id="n203" class="node"><ellipse cx="194" cy="1391" rx="21.7" ry="23.8"/><text x="194" y="1397.5" textLength="16" lengthAdjust="spacingAndGlyphs">203</text></g>
<g id="n369" class="node"><ellipse cx="350" cy="1391" rx="21.7" ry="23.8"/><text x="350" y="1397.5" textLength="16" lengthAdjust="spacingAndGlyphs">369</text></g>
<g id="n243" class="node"><ellipse cx="467" cy="1340" rx="21.7" ry="23.8"/><text x="467" y="1346.5" textLength="16" lengthAdjust="spacingAndGlyphs">243</text></g>
<g id="n103" class="node"><ellipse cx="415" cy="1444" rx="21.7" ry="23.8"/><text x="415" y="1450.5" textLength="16" lengthAdjust="spacingAndGlyphs">103</text></g>
<g id="n183" class="node"><ellipse cx="194" cy="1492" rx="21.7" ry="23.8"/><text x="194" y="1498.5" textLength="16" lengthAdjust="spacingAndGlyphs">183</text></g>
<g id="n145" class="node"><ellipse cx="341" cy="1492" rx="21.7" ry="23.8"/><text x="341" y="1498.5" textLength="16" lengthAdjust="spacingAndGlyphs">145</text></g>
<g id="n488" class="node"><ellipse cx="195" cy="1552" rx="21.7" ry="23.8"/><text x="195" y="1558.5" textLength="16" lengthAdjust="spacingAndGlyphs">488</text></g>
<g id="n623" class="node"><ellipse cx="270" cy="1567" rx="21.7" ry="23.8"/><text x="270" y="1573.5" textLength="16" lengthAdjust="spacingAndGlyphs">623</text></g>
<g id="n685" class="node"><ellipse cx="341" cy="1592" rx="21.7" ry="23.8"/><text x="341" y="1598.5" textLength="16" lengthAdjust="spacingAndGlyphs">685</text></g>
<g id="n77" class="node"><ellipse cx="140" cy="1627" rx="21.7" ry="23.8"/><text x="140" y="1633.5" textLength="11.5" lengthAdjust="spacingAndGlyphs">77</text></g>
<g id="n413" class="node"><ellipse cx="209" cy="1642" rx="21.7" ry="23.8"/><text x="209" y="1648.5" textLength="16" lengthAdjust="spacingAndGlyphs">413</text></g>
<g id="n284" class="node"><ellipse cx="268" cy="1653" rx="21.7" ry="23.8"/><text x="268" y="1659.5" textLength="16" lengthAdjust="spacingAndGlyphs">284</text></g>
<g id="n768" class="node"><ellipse cx="337" cy="1667" rx="21.7" ry="23.8"/><text x="337" y="1673.5" textLength="16" lengthAdjust="spacingAndGlyphs">768</text></g>
<g id="n499" class="node"><ellipse cx="396" cy="1653" rx="21.7" ry="23.8"/><text x="396" y="1659.5" textLength="16" lengthAdjust="spacingAndGlyphs">499</text></g>
<g id="n40" class="node"><ellipse cx="463" cy="1667" rx="21.7" ry="23.8"/><text x="463" y="1673.5" textLength="11.5" lengthAdjust="spacingAndGlyphs">40</text></g>
<g id="n513" class="node"><ellipse cx="86" cy="1703" rx="21.7" ry="23.8"/><text x="86" y="1709.5" textLength="16" lengthAdjust="spacingAndGlyphs">513</text></g>
<g id="n36" class="node"><ellipse cx="153" cy="1717" rx="21.7" ry="23.8"/><text x="153" y="1723.5" textLength="11.5" lengthAdjust="spacingAndGlyphs">36</text></g>
<g id="n98" class="node"><ellipse cx="539" cy="1341" rx="21.7" ry="23.8"/><text x="539" y="1347.5" textLength="11.5" lengthAdjust="spacingAndGlyphs">98</text></g>
<g id="n149" class="node"><ellipse cx="611" cy="1339" rx="21.7" ry="23.8"/><text x="611" y="1345.5" textLength="16" lengthAdjust="spacingAndGlyphs">149</text></g>
<g id="n162" class="node"><ellipse cx="679" cy="1391" rx="21.7" ry="23.8"/><text x="679" y="1397.5" textLength="16" lengthAdjust="spacingAndGlyphs">162</text></g>
<g id="n774" class="node"><ellipse cx="764" cy="1391" rx="21.7" ry="23.8"/><text x="764" y="1397.5" textLength="16" lengthAdjust="spacingAndGlyphs">774</text></g>
<g id="n557" class="node"><ellipse cx="831" cy="1386" rx="21.7" ry="23.8"/><text x="831" y="1392.5" textLength="16" lengthAdjust="spacingAndGlyphs">557</text></g>
<g id="n291" class="node"><ellipse cx="561" cy="1444" rx="21.7" ry="23.8"/><text x="561" y="1450.5" textLength="16" lengthAdjust="spacingAndGlyphs">291</text></g>
<g id="n447" class="node"><ellipse cx="706" cy="1469" rx="21.7" ry="23.8"/><text x="706" y="1475.5" textLength="16" lengthAdjust="spacingAndGlyphs">447</text></g>
<g id="n597" class="node"><ellipse cx="854" cy="1461" rx="21.7" ry="23.8"/><text x="854" y="1467.5" textLength="16" lengthAdjust="spacingAndGlyphs">597</text></g>
<g id="n296" class="node"><ellipse cx="930" cy="1469" rx="21.7" ry="23.8"/><text x="930" y="1475.5" textLength="16" lengthAdjust="spacingAndGlyphs">296</text></g>
<g id="n520" class="node"><ellipse cx="486" cy="1492" rx="21.7" ry="23.8"/><text x="486" y="1498.5" textLength="16" lengthAdjust="spacingAndGlyphs">520</text></g>
<g id="n476" class="node"><ellipse cx="631" cy="1517" rx="21.7" ry="23.8"/><text x="631" y="1523.5" textLength="16" lengthAdjust="spacingAndGlyphs">476</text></g>
<g id="n199" class="node"><ellipse cx="704" cy="1553" rx="21.7" ry="23.8"/><text x="704" y="1559.5" textLength="16" lengthAdjust="spacingAndGlyphs">199</text></g>
<g id="n582" class="node"><ellipse cx="772" cy="1567" rx="21.7" ry="23.8"/><text x="772" y="1573.5" textLength="16" lengthAdjust="spacingAndGlyphs">582</text></g>
<g id="n290" class="node"><ellipse cx="848" cy="1542" rx="21.7" ry="23.8"/><text x="848" y="1548.5" textLength="16" lengthAdjust="spacingAndGlyphs">290</text></g>
<g id="n568" class="node"><ellipse cx="486" cy="1592" rx="21.7" ry="23.8"/><text x="486" y="1598.5" textLength="16" lengthAdjust="spacingAndGlyphs">568</text></g>
<g id="n287" class="node"><ellipse cx="832" cy="1603" rx="21.7" ry="23.8"/><text x="832" y="1609.5" textLength="16" lengthAdjust="spacingAndGlyphs">287</text></g>
<g id="n241" class="node"><ellipse cx="900" cy="1617" rx="21.7" ry="23.8"/><text x="900" y="1623.5" textLength="16" lengthAdjust="spacingAndGlyphs">241</text></g>
<g id="n481" class="node"><ellipse cx="631" cy="1617" rx="21.7" ry="23.8"/><text x="631" y="1623.5" textLength="16" lengthAdjust="spacingAndGlyphs">481</text></g>
<g id="n274" class="node"><ellipse cx="704" cy="1628" rx="21.7" ry="23.8"/><text x="704" y="1634.5" textLength="16" lengthAdjust="spacingAndGlyphs">274</text></g>
<g id="n767" class="node"><ellipse cx="772" cy="1642" rx="21.7" ry="23.8"/><text x="772" y="1648.5" textLength="16" lengthAdjust="spacingAndGlyphs">767</text></g>
<g id="n507" class="node"><ellipse cx="523" cy="1678" rx="21.7" ry="23.8"/><text x="523" y="1684.5" textLength="16" lengthAdjust="spacingAndGlyphs">507</text></g>
<g id="n553" class="node"><ellipse cx="597" cy="1692" rx="21.7" ry="23.8"/><text x="597" y="1698.5" textLength="16" lengthAdjust="spacingAndGlyphs">553</text></g>
<g id="n496" class="node"><ellipse cx="833" cy="1678" rx="21.7" ry="23.8"/><text x="833" y="1684.5" textLength="16" lengthAdjust="spacingAndGlyphs">496</text></g>
<g id="n231" class="node"><ellipse cx="901" cy="1693" rx="21.7" ry="23.8"/><text x="901" y="1699.5" textLength="16" lengthAdjust="spacingAndGlyphs">231</text></g>
<g id="n233" class="node"><ellipse cx="668" cy="1703" rx="21.7" ry="23.8"/><text x="668" y="1709.5" textLength="16" lengthAdjust="spacingAndGlyphs">233</text></g>
<g id="n647" class="node"><ellipse cx="737" cy="1717" rx="21.7" ry="23.8"/><text x="737" y="1723.5" textLength="16" lengthAdjust="spacingAndGlyphs">647</text></g>
<g id="n732" class="node"><ellipse cx="980" cy="1379" rx="21.7" ry="23.8"/><text x="980" y="1385.5" textLength="16" lengthAdjust="spacingAndGlyphs">732</text></g>
<g id="n632" class="node"><ellipse cx="1063" cy="1356" rx="21.7" ry="23.8"/><text x="1063" y="1362.5" textLength="16" lengthAdjust="spacingAndGlyphs">632</text></g>
<g id="n522" class="node"><ellipse cx="1123" cy="1386" rx="21.7" ry="23.8"/><text x="1123" y="1392.5" textLength="16" lengthAdjust="spacingAndGlyphs">522</text></g>
<g id="n677" class="node"><ellipse cx="1194" cy="1376" rx="21.7" ry="23.8"/><text x="1194" y="1382.5" textLength="16" lengthAdjust="spacingAndGlyphs">677</text></g>
<g id="n21" class="node"><ellipse cx="1263" cy="1391" rx="21.7" ry="23.8"/><text x="1263" y="1397.5" textLength="11.5" lengthAdjust="spacingAndGlyphs">21</text></g>
<g id="n53" class="node"><ellipse cx="1066" cy="1452" rx="21.7" ry="23.8"/><text x="1066" y="1458.5" textLength="11.5" lengthAdjust="spacingAndGlyphs">53</text></g>
<g id="n648" class="node"><ellipse cx="1147" cy="1461" rx="21.7" ry="23.8"/><text x="1147" y="1467.5" textLength="16" lengthAdjust="spacingAndGlyphs">648</text></g>
<g id="n324" class="node"><ellipse cx="1223" cy="1469" rx="21.7" ry="23.8"/><text x="1223" y="1475.5" textLength="16" lengthAdjust="spacingAndGlyphs">324</text></g>
<g id="n197" class="node"><ellipse cx="998" cy="1498" rx="21.7" ry="23.8"/><text x="998" y="1504.5" textLength="16" lengthAdjust="spacingAndGlyphs">197</text></g>
<g id="n532" class="node"><ellipse cx="1140" cy="1542" rx="21.7" ry="23.8"/><text x="1140" y="1548.5" textLength="16" lengthAdjust="spacingAndGlyphs">532</text></g>
<g id="n473" class="node"><ellipse cx="1214" cy="1552" rx="21.7" ry="23.8"/><text x="1214" y="1558.5" textLength="16" lengthAdjust="spacingAndGlyphs">473</text></g>
<g id="n364" class="node"><ellipse cx="1282" cy="1567" rx="21.7" ry="23.8"/><text x="1282" y="1573.5" textLength="16" lengthAdjust="spacingAndGlyphs">364</text></g>
<g id="n775" class="node"><ellipse cx="995" cy="1592" rx="21.7" ry="23.8"/><text x="995" y="1598.5" textLength="16" lengthAdjust="spacingAndGlyphs">775</text></g>
<g id="n762" class="node"><ellipse cx="1068" cy="1603" rx="21.7" ry="23.8"/><text x="1068" y="1609.5" textLength="16" lengthAdjust="spacingAndGlyphs">762</text></g>
<g id="n776" class="node"><ellipse cx="1136" cy="1617" rx="21.7" ry="23.8"/><text x="1136" y="1623.5" textLength="16" lengthAdjust="spacingAndGlyphs">776</text></g>
<g id="n697" class="node"><ellipse cx="1196" cy="1628" rx="21.7" ry="23.8"/><text x="1196" y="1634.5" textLength="16" lengthAdjust="spacingAndGlyphs">697</text></g>
<g id="n519" class="node"><ellipse cx="1265" cy="1642" rx="21.7" ry="23.8"/><text x="1265" y="1648.5" textLength="16" lengthAdjust="spacingAndGlyphs">519</text></g>
<g id="n93" class="node"><ellipse cx="959" cy="1678" rx="21.7" ry="23.8"/><text x="959" y="1684.5" textLength="11.5" lengthAdjust="spacingAndGlyphs">93</text></g>
<g id="n299" class="node"><ellipse cx="1027" cy="1692" rx="21.7" ry="23.8"/><text x="1027" y="1698.5" textLength="16" lengthAdjust="spacingAndGlyphs">299</text></g>
<g id="n191" class="node"><ellipse cx="1087" cy="1703" rx="21.7" ry="23.8"/><text x="1087" y="1709.5" textLength="16" lengthAdjust="spacingAndGlyphs">191</text></g>
<g id="n763" class="node"><ellipse cx="1154" cy="1717" rx="21.7" ry="23.8"/><text x="1154" y="1723.5" textLength="16" lengthAdjust="spacingAndGlyphs">763</text></g>
<g id="n442" class="node"><ellipse cx="1214" cy="1703" rx="21.7" ry="23.8"/><text x="1214" y="1709.5" textLength="16" lengthAdjust="spacingAndGlyphs">442</text></g>
<g id="n744" class="node"><ellipse cx="1283" cy="1717" rx="21.7" ry="23.8"/><text x="1283" y="1723.5" textLength="16" lengthAdjust="spacingAndGlyphs">744</text></g>
</g>
</svg>
